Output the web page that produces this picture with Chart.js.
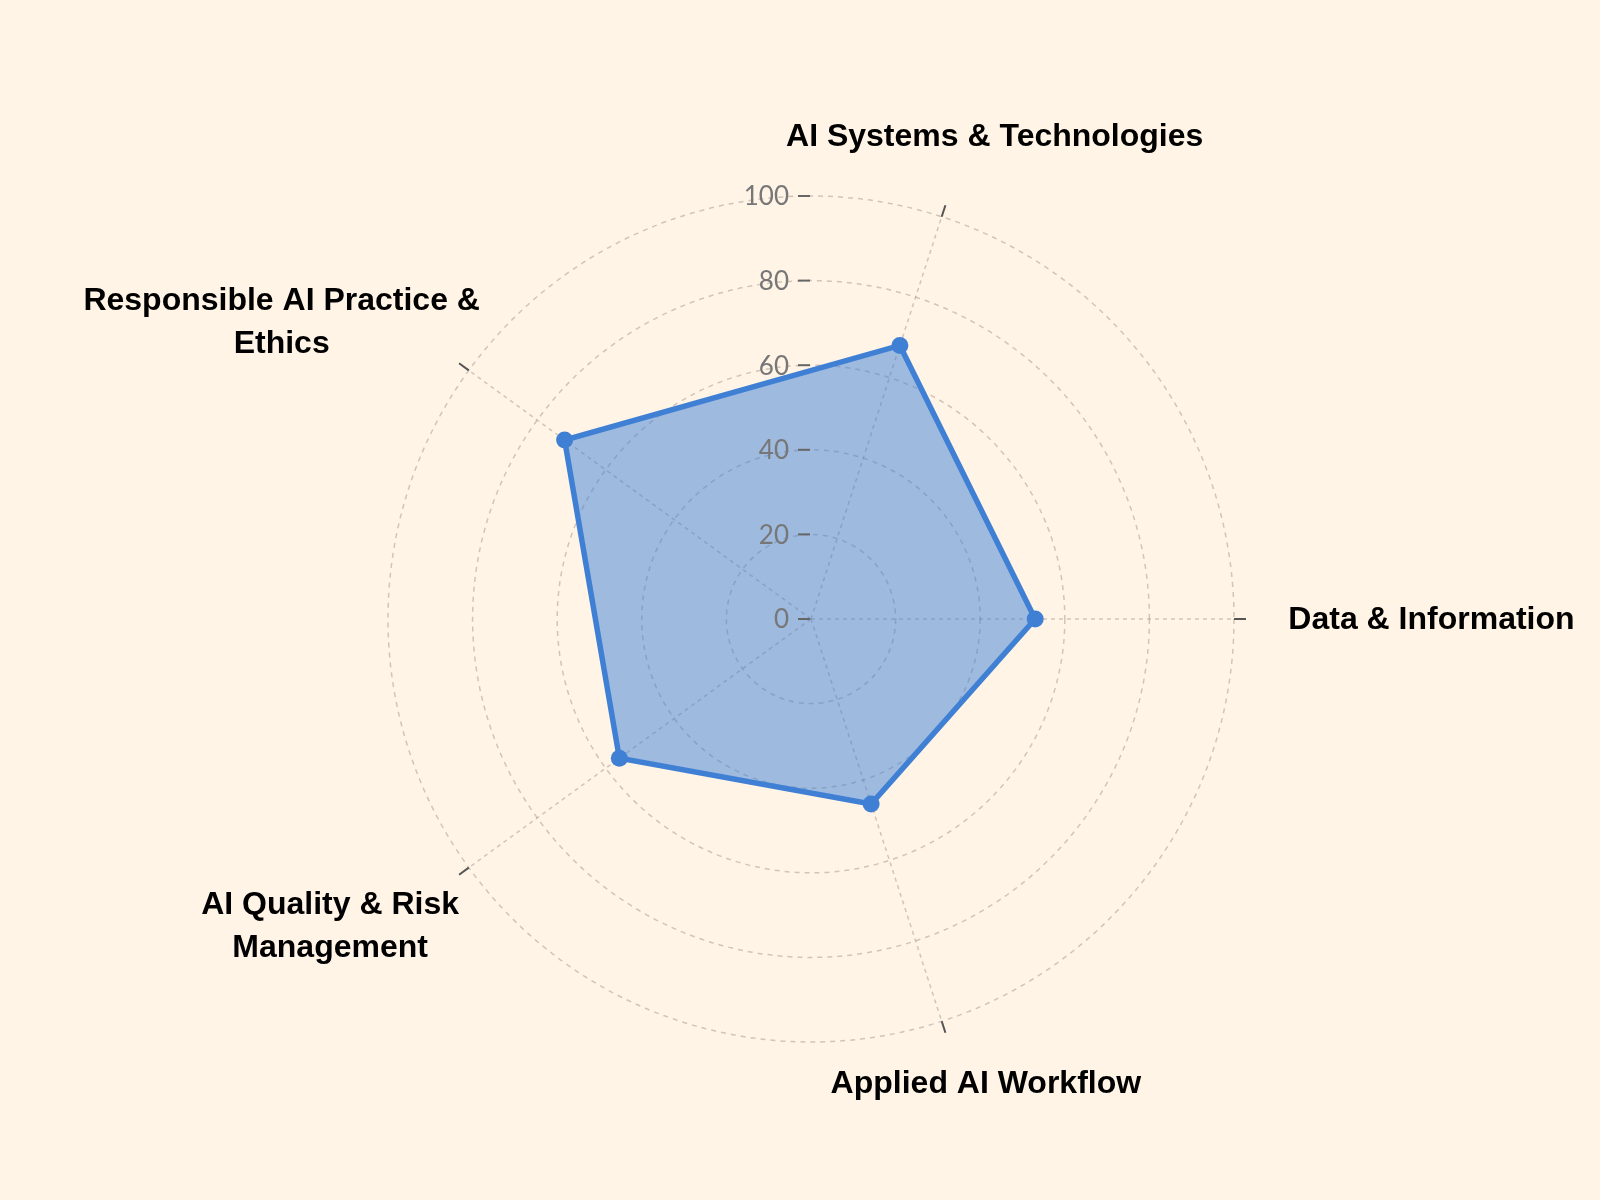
<!DOCTYPE html>
<html>
<head>
<meta charset="utf-8">
<script src="https://cdn.jsdelivr.net/npm/chart.js@4/dist/chart.umd.min.js"></script>
<style>
  html, body { margin: 0; padding: 0; background: #FFF4E6; }
  #wrap { width: 1600px; height: 1200px; }
</style>
</head>
<body>
<div id="wrap"><canvas id="c" width="1600" height="1200"></canvas></div>
<script>
// Categories in Chart.js (clockwise from east) order; multi-line labels as arrays
const categories = [
  ['Data & Information'],
  ['Applied AI Workflow'],
  ['AI Quality & Risk', 'Management'],
  ['Responsible AI Practice &', 'Ethics'],
  ['AI Systems & Technologies']
];
const scores = [53, 46, 56, 72, 68];
const tickValues = [0, 20, 40, 60, 80, 100];
const tickLabels = ['0', '20', '40', '60', '80', '100'];

const BG = '#FFF4E6';
const GRID = 'rgba(150,140,130,0.45)';
const LINE = '#3F80D5';
const FILL = 'rgba(62,128,213,0.5)';

const bgPlugin = {
  id: 'bg',
  beforeDraw(chart) {
    const ctx = chart.ctx;
    ctx.save();
    ctx.fillStyle = BG;
    ctx.fillRect(0, 0, chart.width, chart.height);
    ctx.restore();
  }
};

const decorPlugin = {
  id: 'decor',
  afterDraw(chart) {
    const scale = chart.scales.r;
    const ctx = chart.ctx;
    const cx = scale.xCenter, cy = scale.yCenter;
    const R = scale.drawingArea;
    ctx.save();
    // outer angle tick marks
    ctx.strokeStyle = '#555555';
    ctx.lineWidth = 2;
    ctx.setLineDash([]);
    for (let i = 0; i < categories.length; i++) {
      const a = scale.getPointPosition(i, R);
      const b = scale.getPointPosition(i, R + 12);
      ctx.beginPath();
      ctx.moveTo(a.x, a.y);
      ctx.lineTo(b.x, b.y);
      ctx.stroke();
    }
    // radial tick marks and labels
    ctx.font = '26px Lato';
    ctx.fillStyle = '#777777';
    ctx.textAlign = 'right';
    ctx.textBaseline = 'middle';
    for (let k = 0; k < tickValues.length; k++) {
      const y = cy - scale.getDistanceFromCenterForValue(tickValues[k]);
      ctx.strokeStyle = '#666666';
      ctx.lineWidth = 2;
      ctx.beginPath();
      ctx.moveTo(cx - 13, y);
      ctx.lineTo(cx - 1, y);
      ctx.stroke();
      ctx.fillText(tickLabels[k], cx - 22, y + 1);
    }
    // category labels
    const lineH = 43;
    ctx.font = 'bold 32px "Liberation Sans"';
    ctx.fillStyle = '#000000';
    ctx.textAlign = 'center';
    for (let i = 0; i < categories.length; i++) {
      const lines = categories[i];
      const p = scale.getPointPosition(i, R * 1.142);
      const c = Math.cos(p.angle), s = -Math.sin(p.angle);
      let w = 0;
      lines.forEach(t => { w = Math.max(w, ctx.measureText(t).width); });
      const h = lines.length * lineH;
      const tx = p.x + 0.48 * w * Math.sign(c) * Math.pow(Math.abs(c), 1.5);
      const ty = p.y - 0.35 * h * s + (lines.length > 1 ? 8 : -10) * Math.abs(s);
      lines.forEach((t, j) => {
        ctx.fillText(t, tx, ty - h / 2 + lineH * (j + 0.5) + 1);
      });
    }
    ctx.restore();
  }
};

new Chart(document.getElementById('c'), {
  type: 'radar',
  data: {
    labels: categories,
    datasets: [{
      data: scores,
      fill: true,
      backgroundColor: FILL,
      borderColor: LINE,
      borderWidth: 5.5,
      pointRadius: 8.5,
      pointBackgroundColor: LINE,
      pointBorderColor: LINE,
      pointBorderWidth: 0,
      tension: 0
    }]
  },
  options: {
    responsive: false,
    animation: false,
    layout: { padding: { left: 311, right: 289, top: 196, bottom: 158 } },
    plugins: { legend: { display: false }, tooltip: { enabled: false } },
    scales: {
      r: {
        min: 0,
        max: 100,
        startAngle: 90,
        ticks: { stepSize: 20, display: false },
        pointLabels: { display: false },
        grid: { circular: true, color: GRID, lineWidth: 1.5 },
        border: { dash: [5, 5] },
        angleLines: { color: GRID, lineWidth: 1.5, borderDash: [4, 4] }
      }
    }
  },
  plugins: [bgPlugin, decorPlugin]
});
</script>
</body>
</html>
